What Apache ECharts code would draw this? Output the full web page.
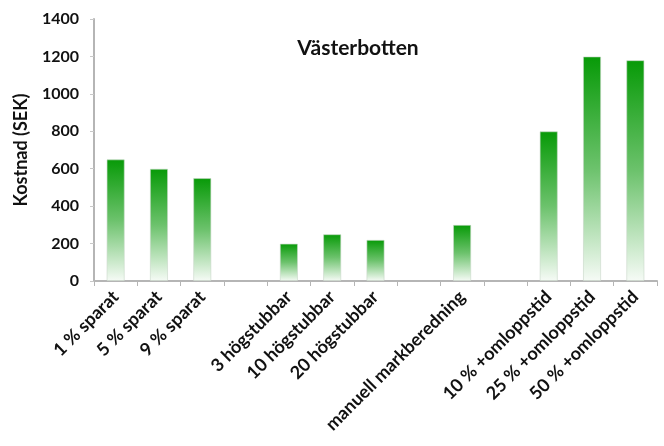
<!DOCTYPE html>
<html>
<head>
<meta charset="utf-8">
<script src="https://cdn.jsdelivr.net/npm/echarts@6/dist/echarts.min.js"></script>
<style>
  html, body { margin: 0; padding: 0; background: #fff; }
  #chart { width: 664px; height: 446px; }
</style>
</head>
<body>
<div id="chart"></div>
<script>
// Cost per measure in Västerbotten (SEK); empty slots separate the groups
const categories = [
  '1 % sparat', '5 % sparat', '9 % sparat', '',
  '3 högstubbar', '10 högstubbar', '20 högstubbar', '',
  'manuell markberedning', '',
  '10 % +omloppstid', '25 % +omloppstid', '50 % +omloppstid'
];
const costs = [650, 600, 550, null, 200, 250, 220, null, 300, null, 800, 1200, 1180];
const yTicks = [0, 200, 400, 600, 800, 1000, 1200, 1400];

const font = 'Lato, "Open Sans", sans-serif';

const chart = echarts.init(document.getElementById('chart'), null, { renderer: 'canvas' });
chart.setOption({
  animation: false,
  title: {
    text: 'Västerbotten',
    left: 353,
    top: 33,
    textAlign: 'center',
    textStyle: { fontFamily: font, fontWeight: 'bold', fontSize: 21, color: '#111' }
  },
  grid: { left: 94, right: 7, top: 19, bottom: 165 },
  xAxis: {
    type: 'category',
    data: categories,
    axisLine: { lineStyle: { color: '#b5b5b5', width: 2 } },
    axisTick: { show: true, alignWithLabel: false, length: 5, lineStyle: { color: '#b5b5b5' } },
    axisLabel: {
      interval: 0,
      rotate: 45,
      margin: 13,
      fontFamily: font,
      fontWeight: 'bold',
      fontSize: 18,
      color: '#111'
    }
  },
  yAxis: {
    type: 'value',
    min: yTicks[0],
    max: yTicks[yTicks.length - 1],
    interval: 200,
    name: 'Kostnad (SEK)',
    nameLocation: 'middle',
    nameGap: 64,
    nameRotate: 90,
    nameTextStyle: { fontFamily: font, fontWeight: 'bold', fontSize: 18, color: '#111' },
    axisLine: { show: true, lineStyle: { color: '#b5b5b5', width: 2 } },
    axisTick: { show: true, length: 4, lineStyle: { color: '#c8c8c8' } },
    splitLine: { show: false },
    axisLabel: {
      fontFamily: font, fontWeight: 'bold', fontSize: 16, color: '#111', margin: 15,
      formatter: v => String(v)
    }
  },
  series: [{
    type: 'bar',
    data: costs,
    barWidth: '42%',
    itemStyle: {
      color: new echarts.graphic.LinearGradient(0, 0, 0, 1, [
        { offset: 0, color: '#079a07' },
        { offset: 0.5, color: '#6cc26c' },
        { offset: 1, color: '#f6fbf6' }
      ]),
      borderColor: 'rgba(200,215,200,0.6)',
      borderWidth: 1
    }
  }]
});
</script>
</body>
</html>
